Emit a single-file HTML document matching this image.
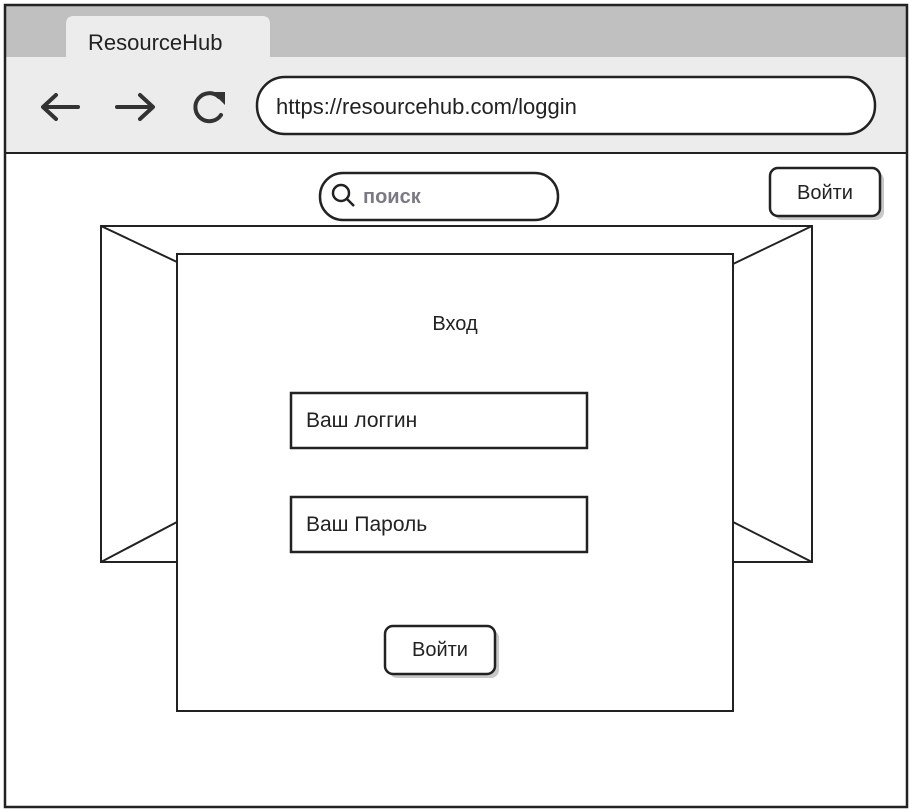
<!DOCTYPE html>
<html><head><meta charset="utf-8"><style>
body{margin:0;width:912px;height:812px;background:#fff;overflow:hidden;font-family:"Liberation Sans","DejaVu Sans",sans-serif;}
svg{position:absolute;left:0;top:0}
text{font-family:"Liberation Sans","DejaVu Sans",sans-serif;fill:#222}
</style></head><body>
<svg width="912" height="812" viewBox="0 0 912 812">
<rect x="5" y="5" width="902" height="52" fill="#c0c0c0"/>
<rect x="5" y="57" width="902" height="96" fill="#ececec"/>
<path d="M66 57 V24 Q66 16 74 16 H262 Q270 16 270 24 V57 Z" fill="#ececec"/>
<text x="88" y="50" font-size="22">ResourceHub</text>
<line x1="5" y1="153" x2="907" y2="153" stroke="#222" stroke-width="2"/>
<rect x="5" y="5" width="902" height="802" fill="none" stroke="#222" stroke-width="2.5"/>
<g stroke="#333" stroke-width="4" fill="none" stroke-linecap="round" stroke-linejoin="round">
<path d="M78 107 H44 M56 95 L43 107 L56 119"/>
<path d="M117 107 H152 M140 95 L153 107 L140 119"/>
<path d="M219 97 A14 14 0 1 0 221 115"/>
</g>
<path d="M212 92 L225 92 L225 105 Z" fill="#333"/>
<rect x="257" y="77" width="618" height="57" rx="28" fill="#fff" stroke="#222" stroke-width="2.5"/>
<text x="276" y="114" font-size="22">https://resourcehub.com/loggin</text>
<rect x="320" y="173" width="238" height="47" rx="23" fill="#fff" stroke="#222" stroke-width="2.5"/>
<circle cx="341" cy="193" r="8" fill="none" stroke="#222" stroke-width="2.5"/>
<line x1="347" y1="199" x2="354" y2="206" stroke="#222" stroke-width="2.5"/>
<text x="363" y="203" font-size="20" font-weight="bold" style="fill:#7a7a85">поиск</text>
<rect x="774" y="172" width="110" height="48" rx="8" fill="#c8c8c8"/>
<rect x="770" y="168" width="110" height="48" rx="8" fill="#fff" stroke="#222" stroke-width="2.5"/>
<text x="825" y="199" font-size="20" text-anchor="middle">Войти</text>
<g stroke="#222" stroke-width="2" fill="#fff">
<rect x="101" y="226" width="711" height="336"/>
<line x1="101" y1="226" x2="177" y2="262"/>
<line x1="812" y1="226" x2="733" y2="264"/>
<line x1="101" y1="562" x2="177" y2="522"/>
<line x1="812" y1="562" x2="733" y2="522"/>
<rect x="177" y="254" width="556" height="457"/>
<rect x="291" y="393" width="296" height="55" stroke-width="2.5"/>
<rect x="291" y="497" width="296" height="55" stroke-width="2.5"/>
</g>
<text x="455" y="330" font-size="20" text-anchor="middle">Вход</text>
<text x="306" y="427" font-size="21">Ваш логгин</text>
<text x="306" y="531" font-size="21">Ваш Пароль</text>
<rect x="389" y="630" width="110" height="48" rx="8" fill="#c8c8c8"/>
<rect x="385" y="626" width="110" height="48" rx="8" fill="#fff" stroke="#222" stroke-width="2.5"/>
<text x="440" y="656" font-size="20" text-anchor="middle">Войти</text>
</svg>
</body></html>
